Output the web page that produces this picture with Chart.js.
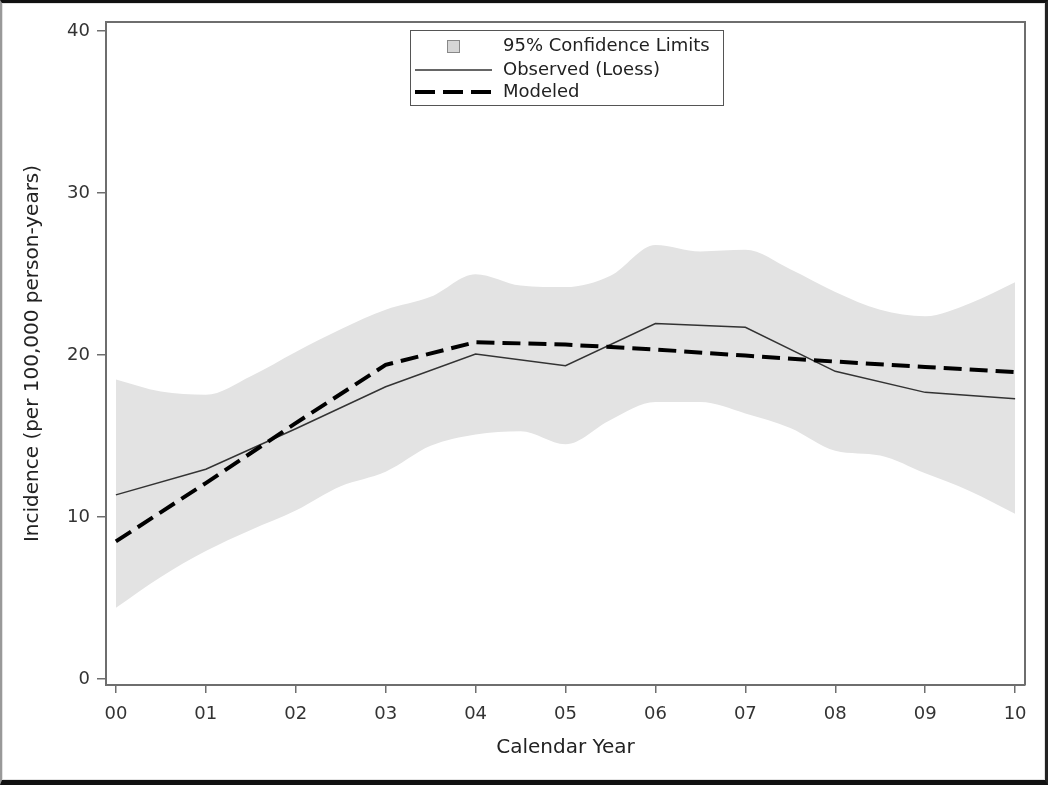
<!DOCTYPE html>
<html>
<head>
<meta charset="utf-8">
<script src="https://cdn.jsdelivr.net/npm/chart.js@4.4.1/dist/chart.umd.min.js"></script>
<style>
  html, body { margin: 0; padding: 0; background: #fff; overflow: hidden; }
  #wrap { position: relative; width: 1050px; height: 786px; }
  #frame {
    position: absolute; left: 0; top: 0; width: 1048px; height: 785px;
    box-sizing: border-box; pointer-events: none;
    border-top: 3px solid #111; border-right: 3px solid #222;
    border-bottom: 5px solid #111; border-left: 2px solid #999;
    box-shadow: inset 0 0 0 1px #e2e2e2;
  }
</style>
</head>
<body>
<div id="wrap">
  <canvas id="incidenceChart"></canvas>
  <div id="frame"></div>
</div>
<script>
// Calendar years (x positions) and their tick labels
const years = [0, 1, 2, 3, 4, 5, 6, 7, 8, 9, 10];
const yearLabels = ['00', '01', '02', '03', '04', '05', '06', '07', '08', '09', '10'];
const yTicks = [0, 10, 20, 30, 40];

// Observed (Loess) and modeled incidence per year
const observed = [11.37, 12.95, 15.45, 18.05, 20.07, 19.35, 21.95, 21.72, 19.0, 17.7, 17.3];
const modeled = [8.5, 12.1, 15.8, 19.4, 20.8, 20.65, 20.35, 19.97, 19.6, 19.27, 18.95];

// 95% confidence band, read every half year
const bandYears = [0, 0.5, 1, 1.5, 2, 2.5, 3, 3.5, 4, 4.5, 5, 5.5, 6, 6.5, 7, 7.5, 8, 8.5, 9, 9.5, 10];
const bandUpper = [18.5, 17.75, 17.55, 18.7, 20.2, 21.6, 22.8, 23.6, 25.0, 24.3, 24.2, 24.9, 26.8, 26.4, 26.5, 25.3, 23.9, 22.8, 22.4, 23.2, 24.5];
const bandLower = [4.4, 6.3, 7.9, 9.2, 10.4, 11.9, 12.8, 14.4, 15.1, 15.3, 14.5, 16.0, 17.1, 17.1, 16.4, 15.5, 14.1, 13.8, 12.7, 11.6, 10.2];

const legendLabels = ['95% Confidence Limits', 'Observed (Loess)', 'Modeled'];

const FONT = "'DejaVu Sans', Verdana, sans-serif";
const BAND_COLOR = '#e3e3e3';
const AXIS_COLOR = '#6e6e6e';

function toPoints(xs, ys) {
    return xs.map((x, i) => ({ x: x, y: ys[i] }));
}

// Draws the top/right frame and the boxed legend inside the plot
const framePlugin = {
    id: 'frameAndLegend',
    afterDraw(chart) {
        const ctx = chart.ctx;
        const a = chart.chartArea;
        ctx.save();
        ctx.strokeStyle = AXIS_COLOR;
        ctx.lineWidth = 2;
        ctx.beginPath();
        ctx.moveTo(a.left, a.top);
        ctx.lineTo(a.right, a.top);
        ctx.lineTo(a.right, a.bottom);
        ctx.stroke();

        // legend box
        const bx = 410, by = 30, bw = 313, bh = 75;
        ctx.fillStyle = '#fff';
        ctx.fillRect(bx, by, bw, bh);
        ctx.strokeStyle = '#555';
        ctx.lineWidth = 1;
        ctx.strokeRect(bx + 0.5, by + 0.5, bw, bh);

        const rows = [46, 70, 92];
        ctx.font = '18px ' + FONT;
        ctx.fillStyle = '#222';
        ctx.textBaseline = 'middle';
        ctx.textAlign = 'left';
        legendLabels.forEach((t, i) => ctx.fillText(t, 503, rows[i]));

        // confidence swatch
        ctx.fillStyle = '#d6d6d6';
        ctx.fillRect(447, rows[0] - 6, 13, 13);
        ctx.strokeStyle = '#888';
        ctx.strokeRect(447.5, rows[0] - 5.5, 12, 12);

        // observed sample
        ctx.strokeStyle = '#333';
        ctx.lineWidth = 1.5;
        ctx.beginPath();
        ctx.moveTo(415, rows[1]);
        ctx.lineTo(492, rows[1]);
        ctx.stroke();

        // modeled sample
        ctx.strokeStyle = '#000';
        ctx.lineWidth = 4;
        ctx.setLineDash([20, 8]);
        ctx.beginPath();
        ctx.moveTo(415, rows[2]);
        ctx.lineTo(492, rows[2]);
        ctx.stroke();
        ctx.restore();
    }
};

const ctx = document.getElementById('incidenceChart').getContext('2d');
const chart = new Chart(ctx, {
    type: 'line',
    data: {
        datasets: [
            {
                label: 'Modeled',
                data: toPoints(years, modeled),
                borderColor: '#000',
                borderWidth: 4,
                borderDash: [18, 8],
                pointRadius: 0,
                fill: false,
                tension: 0
            },
            {
                label: 'Observed (Loess)',
                data: toPoints(years, observed),
                borderColor: '#333',
                borderWidth: 1.5,
                pointRadius: 0,
                fill: false,
                tension: 0
            },
            {
                label: 'Upper',
                data: toPoints(bandYears, bandUpper),
                borderWidth: 0,
                borderColor: BAND_COLOR,
                backgroundColor: BAND_COLOR,
                pointRadius: 0,
                fill: '+1',
                cubicInterpolationMode: 'monotone'
            },
            {
                label: 'Lower',
                data: toPoints(bandYears, bandLower),
                borderWidth: 0,
                borderColor: BAND_COLOR,
                pointRadius: 0,
                fill: false,
                cubicInterpolationMode: 'monotone'
            }
        ]
    },
    options: {
        responsive: true,
        maintainAspectRatio: false,
        animation: false,
        layout: { padding: { top: 22, right: 25, left: 0, bottom: 0 } },
        plugins: {
            legend: { display: false },
            tooltip: { enabled: false }
        },
        scales: {
            x: {
                type: 'linear',
                min: -0.11,
                max: 10.11,
                afterBuildTicks: s => { s.ticks = years.map(v => ({ value: v })); },
                afterFit: s => { s.height = 101; },
                grid: { drawOnChartArea: false, drawTicks: true, tickLength: 8, color: AXIS_COLOR, lineWidth: 1.5 },
                border: { color: AXIS_COLOR, width: 2 },
                ticks: {
                    padding: 11,
                    color: '#333',
                    font: { family: FONT, size: 18 },
                    maxRotation: 0,
                    callback: v => yearLabels[years.indexOf(v)]
                },
                title: {
                    display: true,
                    text: 'Calendar Year',
                    color: '#222',
                    padding: 26,
                    font: { family: FONT, size: 20 }
                }
            },
            y: {
                min: -0.37,
                max: 40.57,
                afterBuildTicks: s => { s.ticks = yTicks.map(v => ({ value: v })); },
                afterFit: s => { s.width = 106; },
                grid: { drawOnChartArea: false, drawTicks: true, tickLength: 9, color: AXIS_COLOR, lineWidth: 1.5 },
                border: { color: AXIS_COLOR, width: 2 },
                ticks: {
                    padding: 7,
                    color: '#333',
                    font: { family: FONT, size: 18 }
                },
                title: {
                    display: true,
                    text: 'Incidence (per 100,000 person-years)',
                    color: '#222',
                    padding: 21,
                    font: { family: FONT, size: 20 }
                }
            }
        }
    },
    plugins: [framePlugin]
});
</script>
</body>
</html>
